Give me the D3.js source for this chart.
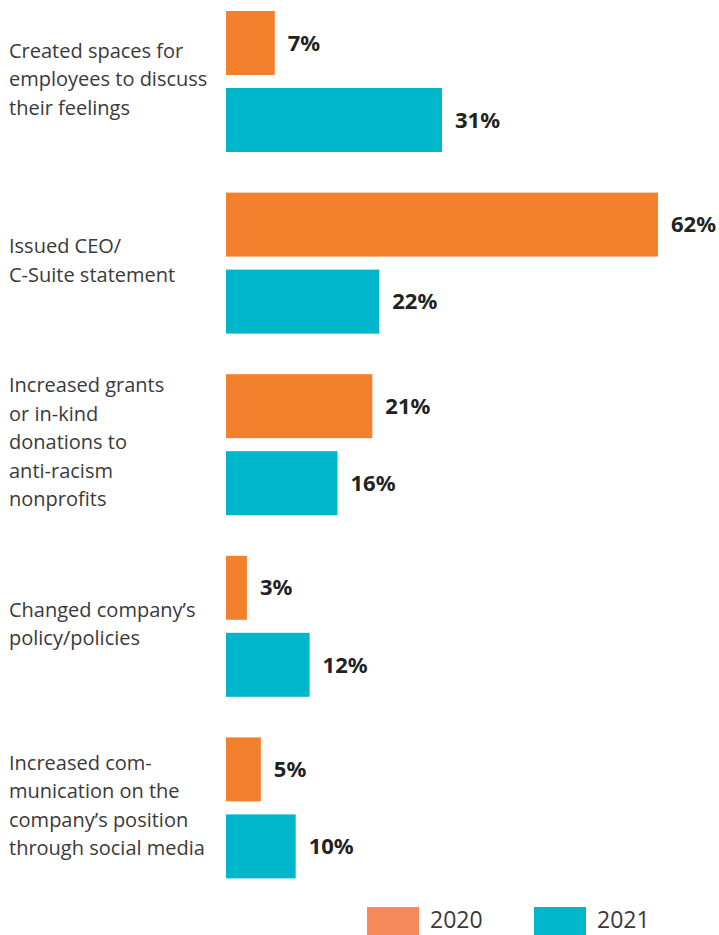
<!DOCTYPE html>
<html>
<head>
<meta charset="utf-8">
<script src="https://cdn.jsdelivr.net/npm/d3@7"></script>
<style>
  html, body { margin: 0; padding: 0; background: #fff; }
  svg { display: block; }
  .cat { font-family: "Open Sans", "Noto Sans", sans-serif; font-size: 20px; font-weight: 400; fill: #3a3a3a; }
  .val { font-family: "Noto Sans", "Open Sans", sans-serif; font-size: 22px; font-weight: 700; fill: #222; }
  .leg { font-family: "Open Sans", "Noto Sans", sans-serif; font-size: 23px; font-weight: 400; fill: #3a3a3a; }
</style>
</head>
<body>
<svg id="chart" width="719" height="935"></svg>
<script>
// Company responses to racial injustice, share of respondents
const categories = [
  ["Created spaces for", "employees to discuss", "their feelings"],
  ["Issued CEO/", "C-Suite statement"],
  ["Increased grants", "or in-kind", "donations to", "anti-racism", "nonprofits"],
  ["Changed company\u2019s", "policy/policies"],
  ["Increased com-", "munication on the", "company\u2019s position", "through social media"]
];
const series = ["2020", "2021"];
const values2020 = [7, 62, 21, 3, 5];
const values2021 = [31, 22, 16, 12, 10];

const barColors = { "2020": "#f2802d", "2021": "#00b6cb" };
const legendColors = { "2020": "#f6895a", "2021": "#00b6cb" };

const svg = d3.select("#chart");

const x = d3.scaleLinear().domain([0, 62]).range([226, 658]);
const y = d3.scaleBand().domain(d3.range(categories.length)).range([11, 919]);
const inner = d3.scaleBand().domain(series).range([0, 141]).paddingInner(0.169);

const rows = categories.map((c, i) => ({
  i, lines: c,
  vals: [{ s: "2020", v: values2020[i] }, { s: "2021", v: values2021[i] }]
}));

const g = svg.selectAll("g.row").data(rows).join("g")
  .attr("class", "row")
  .attr("transform", d => `translate(0,${y(d.i)})`);

g.selectAll("rect").data(d => d.vals).join("rect")
  .attr("x", x(0))
  .attr("y", d => inner(d.s))
  .attr("width", d => x(d.v) - x(0))
  .attr("height", inner.bandwidth())
  .attr("fill", d => barColors[d.s]);

g.selectAll("text.val").data(d => d.vals).join("text")
  .attr("class", "val")
  .attr("x", d => x(d.v) + 13)
  .attr("y", d => inner(d.s) + inner.bandwidth() / 2)
  .attr("dy", "0.35em")
  .text(d => d.v + "%");

const lineH = 28.5;
g.append("text")
  .attr("class", "cat")
  .attr("y", d => 68 - (d.lines.length - 1) * lineH / 2)
  .selectAll("tspan").data(d => d.lines).join("tspan")
  .attr("x", 9)
  .attr("dy", (d, k) => k === 0 ? "0.35em" : lineH)
  .text(d => d);

// Legend
const legX = d3.scalePoint().domain(series).range([367, 534]);
const leg = svg.selectAll("g.leg").data(series).join("g")
  .attr("transform", s => `translate(${legX(s)},907)`);
leg.append("rect").attr("width", 52).attr("height", 30).attr("fill", s => legendColors[s]);
leg.append("text").attr("class", "leg").attr("x", 63).attr("y", 21).text(s => s);
</script>
</body>
</html>
